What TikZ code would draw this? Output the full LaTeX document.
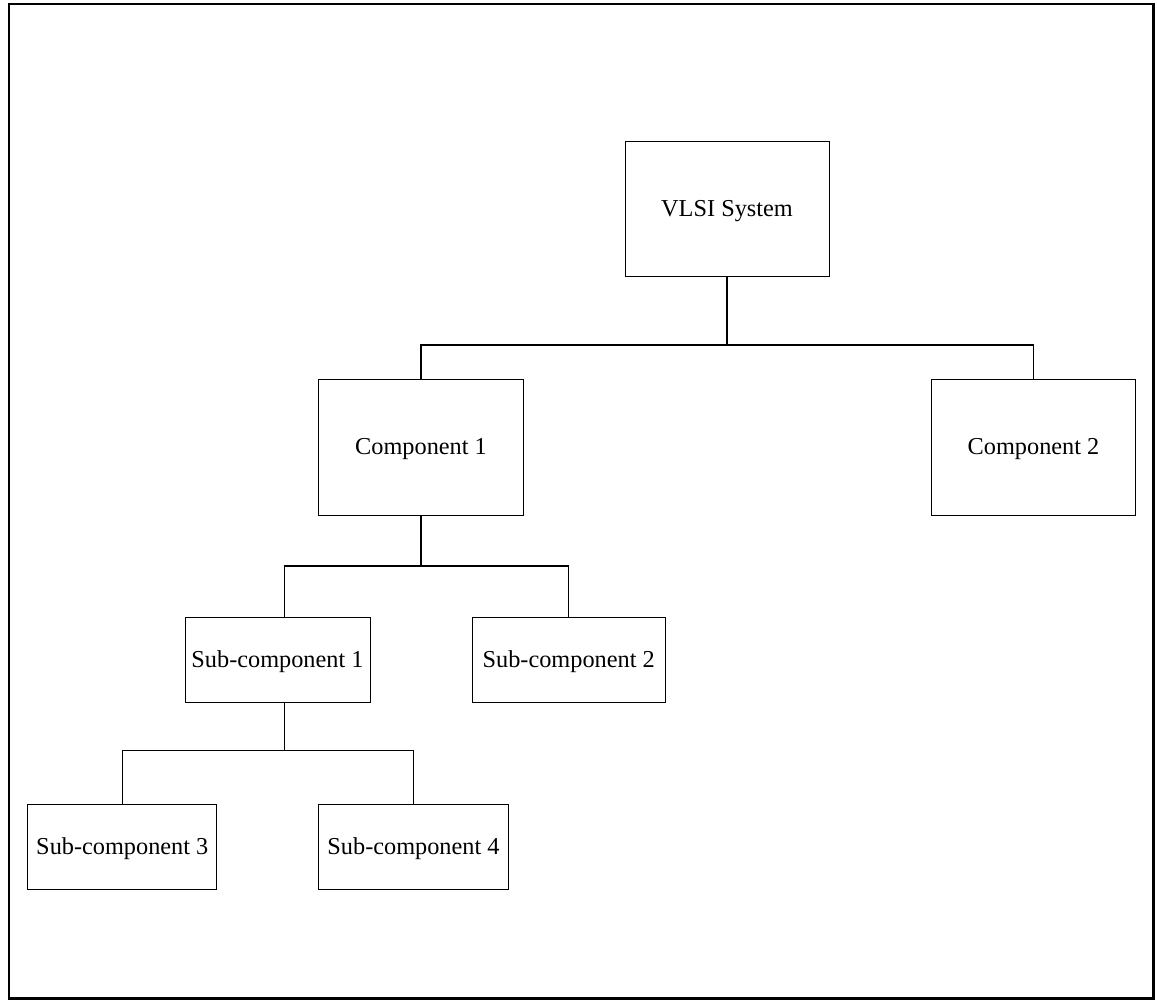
\documentclass[tikz,border=0pt]{standalone}
\usepackage{fontspec}
\setmainfont{Liberation Serif}
\begin{document}
\begin{tikzpicture}[x=1pt,y=-1pt,
  box/.style={draw, line width=0.9pt, inner sep=0pt, text height=15.5pt, text depth=0pt, font=\fontsize{24.3}{28}\selectfont, anchor=center},
  link/.style={draw, line width=1.3pt}]
\useasboundingbox (0,0) rectangle (1157,999);
\draw[line width=2.2pt] (9,4.2) rectangle (1153.5,998.5);
\node[box, minimum width=204pt, minimum height=135pt] (sys) at (727,209) {VLSI System};
\node[box, minimum width=205pt, minimum height=136pt] (c1) at (421,447) {Component 1};
\node[box, minimum width=204pt, minimum height=136pt] (c2) at (1033.5,447) {Component 2};
\node[box, minimum width=185pt, minimum height=85pt] (s1) at (277.5,660) {Sub-component 1};
\node[box, minimum width=193pt, minimum height=85pt] (s2) at (568.7,660) {Sub-component 2};
\node[box, minimum width=189pt, minimum height=85pt] (s3) at (122.3,846.5) {Sub-component 3};
\node[box, minimum width=190pt, minimum height=85pt] (s4) at (413.5,846.5) {Sub-component 4};
\coordinate (j1) at (727,345);
\coordinate (j2) at (421,566);
\coordinate (j3) at (284.7,750.5);
\path[link] (sys.south) -- (j1);
\path[link] (j1) -| (c1.north);
\path[link] (j1) -| (c2.north);
\path[link] (c1.south) -- (j2);
\path[link] (j2) -| ([xshift=7.2pt]s1.north);
\path[link] (j2) -| (s2.north);
\path[link] ([xshift=7.2pt]s1.south) -- (j3);
\path[link] (j3) -| (s3.north);
\path[link] (j3) -| (s4.north);
\end{tikzpicture}
\end{document}
